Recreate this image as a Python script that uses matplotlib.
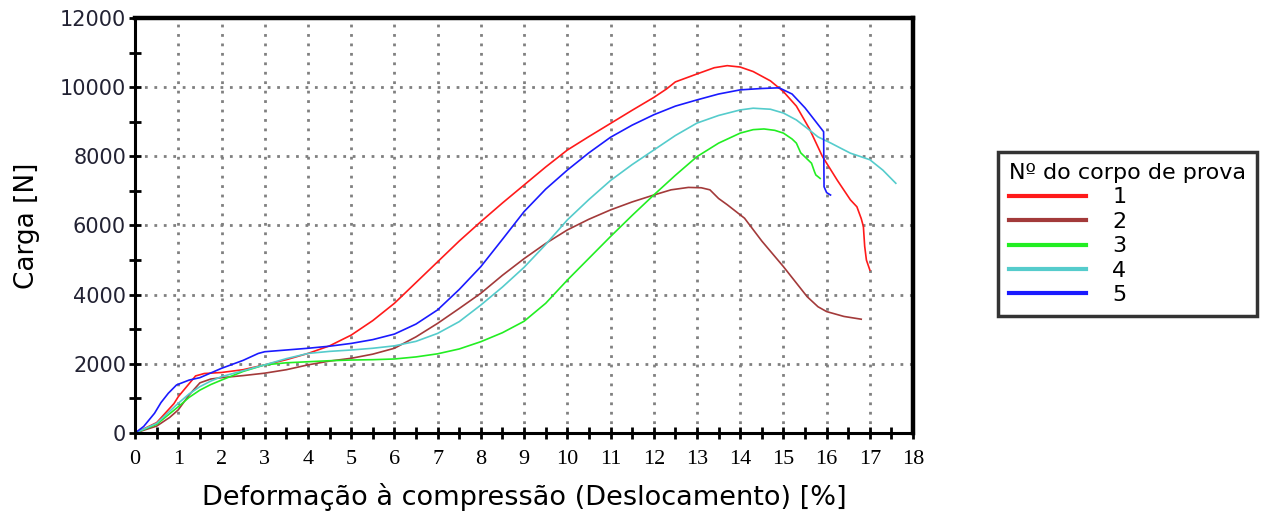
import matplotlib
matplotlib.use("Agg")
import matplotlib.pyplot as plt
from matplotlib.ticker import MultipleLocator

# curve data (deformation %, load N)
x1 = [0, 0.5, 0.9, 1.0, 1.2, 1.4, 1.6, 2.0, 2.5, 3.0, 3.5, 4.0, 4.5, 5.0, 5.5, 6.0, 6.5, 7.0,
      7.5, 8.0, 8.5, 9.0, 9.5, 10.0, 10.5, 11.0, 11.5, 12.0, 12.3, 12.5, 13.0, 13.4, 13.7, 14.0,
      14.3, 14.7, 15.0, 15.3, 15.6, 15.9, 16.25, 16.55, 16.7, 16.8, 16.85, 16.88, 16.92, 17.0]
y1 = [0, 300, 850, 1050, 1350, 1650, 1720, 1750, 1830, 1970, 2120, 2300, 2520, 2830, 3250, 3750,
      4350, 4950, 5550, 6110, 6650, 7170, 7690, 8180, 8570, 8950, 9330, 9700, 9950, 10150, 10380,
      10560, 10620, 10580, 10450, 10180, 9870, 9450, 8800, 8000, 7300, 6740, 6540, 6200, 5970,
      5400, 5000, 4710]

x2 = [0, 0.5, 0.8, 1.0, 1.25, 1.5, 1.75, 2.0, 2.5, 3.0, 3.5, 4.0, 4.5, 5.0, 5.5, 6.0, 6.5, 7.0,
      7.5, 8.0, 8.5, 9.0, 9.5, 10.0, 10.5, 11.0, 11.5, 12.0, 12.4, 12.8, 13.1, 13.3, 13.5, 13.7,
      14.1, 14.5, 15.0, 15.55, 15.8, 16.0, 16.4, 16.8]
y2 = [0, 200, 450, 670, 1100, 1450, 1560, 1600, 1660, 1730, 1830, 1970, 2080, 2160, 2280, 2450,
      2780, 3170, 3600, 4040, 4560, 5040, 5480, 5870, 6180, 6450, 6680, 6880, 7030, 7100, 7090,
      7030, 6780, 6600, 6210, 5550, 4810, 3940, 3650, 3510, 3370, 3290]

x3 = [0, 0.5, 1.0, 1.25, 1.5, 1.75, 2.0, 2.5, 3.0, 3.5, 4.0, 4.5, 5.0, 5.5, 6.0, 6.5, 7.0, 7.5,
      8.0, 8.5, 9.0, 9.5, 10.0, 10.5, 11.0, 11.5, 12.0, 12.5, 13.0, 13.5, 14.0, 14.3, 14.55,
      14.8, 15.0, 15.2, 15.3, 15.4, 15.5, 15.65, 15.72, 15.75, 15.85]
y3 = [0, 250, 760, 1030, 1240, 1400, 1530, 1780, 1970, 2030, 2060, 2090, 2110, 2120, 2140, 2200,
      2290, 2430, 2640, 2900, 3230, 3750, 4420, 5050, 5680, 6290, 6880, 7450, 7990, 8380, 8670,
      8770, 8790, 8750, 8670, 8500, 8380, 8100, 7980, 7800, 7550, 7460, 7360]

x4 = [0, 0.5, 1.0, 1.25, 1.5, 1.75, 2.0, 2.5, 3.0, 3.5, 4.0, 4.5, 5.0, 5.5, 6.0, 6.5, 7.0, 7.5,
      8.0, 8.5, 9.0, 9.5, 10.0, 10.5, 11.0, 11.5, 12.0, 12.5, 13.0, 13.5, 14.0, 14.3, 14.7,
      15.0, 15.3, 15.55, 15.8, 16.1, 16.3, 16.55, 17.0, 17.3, 17.6]
y4 = [0, 280, 860, 1130, 1340, 1500, 1630, 1800, 1970, 2150, 2300, 2360, 2400, 2450, 2520, 2650,
      2880, 3220, 3700, 4220, 4790, 5450, 6160, 6750, 7300, 7760, 8180, 8600, 8960, 9180, 9340,
      9390, 9360, 9250, 9050, 8810, 8560, 8380, 8250, 8090, 7900, 7600, 7220]

x5 = [0, 0.2, 0.45, 0.6, 0.77, 0.96, 1.25, 1.5, 2.0, 2.5, 2.85, 3.0, 3.5, 4.0, 4.5, 5.0,
      5.5, 6.0, 6.5, 7.0, 7.5, 8.0, 8.5, 9.0, 9.5, 10.0, 10.5, 11.0, 11.5, 12.0, 12.5, 13.0,
      13.5, 14.0, 14.5, 14.9, 15.2, 15.5, 15.75, 15.93, 15.94, 16.0, 16.09]
y5 = [0, 190, 570, 880, 1150, 1390, 1530, 1600, 1870, 2100, 2300, 2350, 2400, 2450, 2510,
      2590, 2700, 2860, 3150, 3560, 4150, 4810, 5600, 6400, 7050, 7600, 8100, 8550, 8900, 9200,
      9450, 9630, 9800, 9920, 9960, 9980, 9800, 9400, 9000, 8710, 7120, 6950, 6880]

series_x = [x1, x2, x3, x4, x5]
series_y = [y1, y2, y3, y4, y5]
labels = ["1", "2", "3", "4", "5"]
colors = ["#ff1a1a", "#a33a3a", "#22ee22", "#55cccc", "#1a1aff"]

fig = plt.figure(figsize=(12.61, 5.15), dpi=100)
ax = fig.add_axes([0.1071, 0.1592, 0.617, 0.806])

for xs, ys, c, lab in zip(series_x, series_y, colors, labels):
    ax.plot(xs, ys, color=c, lw=1.2, label=lab, solid_joinstyle="round")

ax.set_xlim(0, 18)
ax.set_ylim(0, 12000)
ax.xaxis.set_major_locator(MultipleLocator(1))
ax.xaxis.set_minor_locator(MultipleLocator(0.5))
ax.yaxis.set_major_locator(MultipleLocator(2000))
ax.yaxis.set_minor_locator(MultipleLocator(1000))

ax.grid(True, which="major", color="#808080", linestyle=(0, (1, 2.4)), linewidth=2)
ax.tick_params(which="both", direction="inout", length=9, width=2, color="black")
ax.tick_params(axis="y", labelsize=15, labelcolor="#222233", pad=2)
ax.tick_params(axis="x", labelsize=16, pad=8)
for t in ax.get_xticklabels():
    t.set_family("Liberation Serif")

for side in ["left", "bottom"]:
    ax.spines[side].set_linewidth(2.2)
for side in ["top", "right"]:
    ax.spines[side].set_linewidth(3.2)

ax.set_ylabel("Carga [N]", fontsize=19, labelpad=14)
ax.set_xlabel("Deformação à compressão (Deslocamento) [%]", fontsize=19.5, labelpad=10)

leg = fig.legend(handles=[plt.Line2D([], [], color=c, lw=3) for c in colors],
                 labels=labels, title="Nº do corpo de prova",
                 loc="upper left", bbox_to_anchor=(0.7914, 0.705),
                 fontsize=16, title_fontsize=16, handlelength=3.45,
                 frameon=True, fancybox=False, edgecolor="black",
                 borderpad=0.5, labelspacing=0.2, handletextpad=1.2,
                 borderaxespad=0)
leg.get_frame().set_linewidth(2.5)
leg._legend_box.align = "left"

fig.savefig("out.png", dpi=100)
